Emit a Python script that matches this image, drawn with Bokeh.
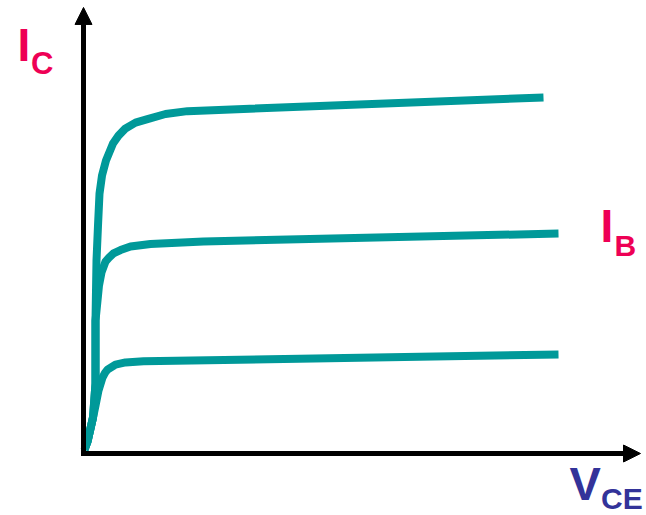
from bokeh.plotting import figure
from bokeh.models import Range1d, Arrow, NormalHead, Label
from bokeh.embed import file_html
from bokeh.resources import INLINE

# Transistor output characteristics (arbitrary units): IC versus VCE for three base currents
vce_low = [0.02, 0.08, 0.19, 0.24, 0.30, 0.38, 0.43, 0.48, 0.64, 0.84, 1.20, 9.50]
ic_low = [0.11, 0.33, 1.00, 1.33, 1.75, 2.11, 2.24, 2.33, 2.47, 2.53, 2.56, 2.75]

vce_mid = [0.02, 0.08, 0.19, 0.24, 0.24, 0.28, 0.31, 0.36, 0.44, 0.51, 0.60, 0.74, 0.94, 1.34, 2.40, 9.50]
ic_mid = [0.11, 0.33, 1.00, 1.94, 3.69, 4.25, 4.67, 5.03, 5.33, 5.44, 5.56, 5.65, 5.75, 5.82, 5.89, 6.11]

vce_high = [0.02, 0.08, 0.19, 0.24, 0.24, 0.26, 0.29, 0.32, 0.37, 0.45, 0.59, 0.70, 0.84, 1.04, 1.28, 1.64, 2.08, 9.20]
ic_high = [0.11, 0.33, 1.00, 1.94, 3.69, 5.36, 6.33, 7.22, 7.72, 8.14, 8.61, 8.83, 9.03, 9.19, 9.29, 9.43, 9.51, 9.89]

curves = [(vce_low, ic_low), (vce_mid, ic_mid), (vce_high, ic_high)]

TEAL = "#009999"
PINK = "#EE0055"
BLUE = "#333399"
FONT = "Liberation Sans"

W, H = 646, 515
p = figure(width=W, height=H, output_backend="svg", toolbar_location=None,
           x_range=Range1d(-1.66, 11.26), y_range=Range1d(-1.722, 12.583),
           x_axis_type=None, y_axis_type=None, min_border=0)
p.outline_line_color = None
p.background_fill_color = "white"
p.border_fill_color = "white"

for xs, ys in curves:
    p.line(xs, ys, line_width=8, line_color=TEAL, line_join="round", line_cap="butt")

# axes drawn as arrows
p.add_layout(Arrow(end=NormalHead(size=17, fill_color="black", line_color="black"),
                   x_start=-0.05, y_start=0, x_end=11.14, y_end=0,
                   line_width=5, line_color="black"))
p.add_layout(Arrow(end=NormalHead(size=17, fill_color="black", line_color="black"),
                   x_start=0, y_start=-0.07, x_end=0, y_end=12.39,
                   line_width=5, line_color="black"))

def lab(text, x, y, size, color):
    p.add_layout(Label(x=x, y=y, text=text, text_font=FONT, text_font_style="bold",
                       text_font_size=size, text_color=color,
                       text_baseline="alphabetic", text_align="left"))

# I_C
lab("I", -1.32, 11.36, "46px", PINK)
lab("C", -1.05, 10.83, "31px", PINK)
# I_B
lab("I", 10.34, 6.33, "46px", PINK)
lab("B", 10.62, 5.79, "30px", PINK)
# V_CE
lab("V", 9.72, -0.82, "47px", BLUE)
lab("CE", 10.35, -1.24, "30px", BLUE)

open("out.html", "w").write(file_html(p, INLINE))
